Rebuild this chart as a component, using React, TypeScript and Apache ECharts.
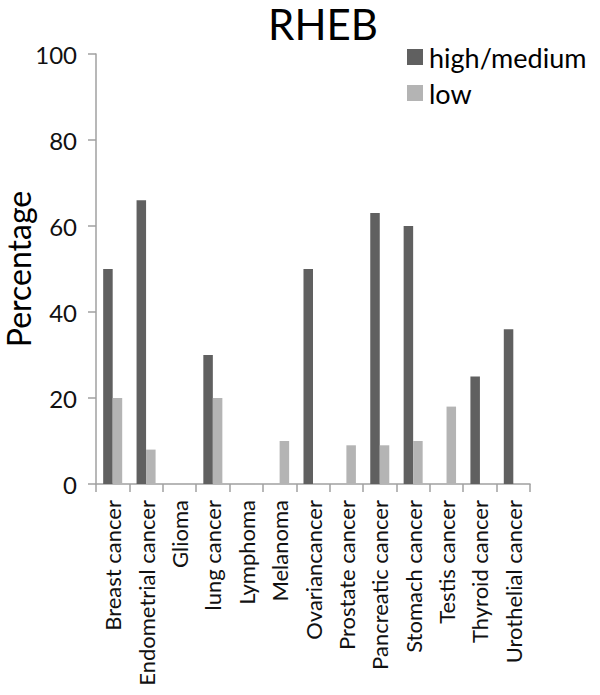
import React, { useEffect, useRef } from "react";
import * as echarts from "echarts";

const categories = [
  "Breast cancer",
  "Endometrial cancer",
  "Glioma",
  "lung cancer",
  "Lymphoma",
  "Melanoma",
  "Ovariancancer",
  "Prostate cancer",
  "Pancreatic cancer",
  "Stomach cancer",
  "Testis cancer",
  "Thyroid cancer",
  "Urothelial cancer",
];
const highMedium = [50, 66, 0, 30, 0, 0, 50, 0, 63, 60, 0, 25, 36];
const low = [20, 8, 0, 20, 0, 10, 0, 9, 9, 10, 18, 0, 0];
const yTicks = [0, 20, 40, 60, 80, 100];

const FONT = "Lato";

export default function App() {
  const ref = useRef<HTMLDivElement>(null);
  useEffect(() => {
    const chart = echarts.init(ref.current!, undefined, { renderer: "svg" });
    chart.setOption({
      animation: false,
      backgroundColor: "#ffffff",
      textStyle: { fontFamily: FONT },
      title: {
        text: "RHEB",
        left: 318,
        top: -2,
        textAlign: "center",
        textStyle: { fontFamily: FONT, fontSize: 42, fontWeight: "normal", color: "#000" },
      },
      legend: {
        orient: "vertical",
        left: 402,
        top: 38,
        itemWidth: 16,
        itemHeight: 16,
        itemGap: 8,
        icon: "rect",
        textStyle: { fontFamily: FONT, fontSize: 27, lineHeight: 28, color: "#000", padding: [0, 0, 0, 1] },
        data: ["high/medium", "low"],
      },
      grid: {
        left: 96,
        right: 70,
        top: 54,
        bottom: 211,
        containLabel: false,
        outerBoundsMode: "none",
      },
      xAxis: {
        type: "category",
        data: categories,
        axisLine: { lineStyle: { color: "#a0a0a0", width: 1.5 } },
        axisTick: { show: true, inside: false, length: 8, lineStyle: { color: "#a0a0a0", width: 1.5 } },
        axisLabel: {
          rotate: 90,
          interval: 0,
          margin: 16,
          fontFamily: FONT,
          fontSize: 22,
          color: "#111",
        },
      },
      yAxis: {
        type: "value",
        min: 0,
        max: 100,
        interval: 20,
        name: "Percentage",
        nameLocation: "middle",
        nameGap: 62,
        nameMoveOverlap: false,
        nameRotate: 90,
        nameTextStyle: { fontFamily: FONT, fontSize: 32, color: "#000" },
        axisLine: { show: true, lineStyle: { color: "#a0a0a0", width: 1.5 } },
        axisTick: { show: true, length: 8, lineStyle: { color: "#a0a0a0", width: 1.5 } },
        splitLine: { show: false },
        axisLabel: {
          margin: 19,
          fontFamily: FONT,
          fontSize: 24,
          color: "#111",
          formatter: (v: number) => (yTicks.includes(v) ? String(v) : ""),
        },
      },
      series: [
        {
          name: "high/medium",
          type: "bar",
          data: highMedium,
          barGap: "0%",
          barCategoryGap: "43%",
          itemStyle: { color: "#606060" },
        },
        {
          name: "low",
          type: "bar",
          data: low,
          barGap: "0%",
          barCategoryGap: "43%",
          itemStyle: { color: "#b4b4b4" },
        },
      ],
    });
    return () => chart.dispose();
  }, []);
  return <div ref={ref} style={{ width: 600, height: 695, position: "absolute", left: 0, top: 0 }} />;
}
